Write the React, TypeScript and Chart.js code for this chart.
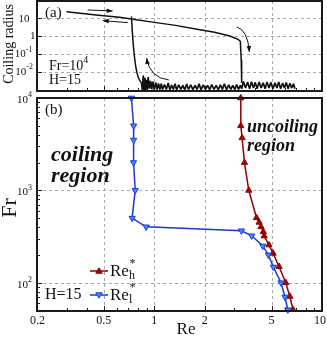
import React, { useEffect, useRef } from 'react';
import { Chart, registerables } from 'chart.js';

Chart.register(...registerables);

const W = 327;
const H = 340;
const FONT = '"Liberation Serif", "DejaVu Serif", serif';

// ---------- Panel (a): coiling radius vs Re (Fr = 10^4, H = 15)
const branchRe = [0.3, 0.45, 0.62, 0.73, 1.0, 1.34, 1.8, 2.29, 2.82, 3.16, 3.26, 3.3, 3.32];
const branchRadius = [23.6, 15.4, 11.3, 9.2, 5.9, 4.0, 2.45, 1.64, 1.02, 0.66, 0.5, 0.045, 0.0023];
const jumpRe = [0.731, 0.733, 0.741, 0.755, 0.776, 0.8, 0.84];
const jumpRadius = [12.8, 9.0, 1.44, 0.166, 0.0192, 0.0053, 0.0022];
const noiseRe = [
  0.84, 0.85, 0.86, 0.87, 0.88, 0.89, 0.9, 0.91, 0.92, 0.935, 0.95, 0.965, 0.98, 1.0, 1.02, 1.04,
  1.06, 1.08, 1.1, 1.12, 1.15, 1.18, 1.21, 1.24, 1.27, 1.3, 1.33, 1.36, 1.4, 1.44, 1.48, 1.52,
  1.56, 1.6, 1.65, 1.7, 1.75, 1.8, 1.85, 1.9, 1.96, 2.02, 2.08, 2.14, 2.2, 2.27, 2.34, 2.41,
  2.48, 2.55, 2.62, 2.7, 2.78, 2.86, 2.94, 3.02, 3.1, 3.18, 3.26, 3.32, 3.4, 3.5, 3.6, 3.7,
  3.8, 3.9, 4.0, 4.1, 4.22, 4.34, 4.46, 4.58, 4.7, 4.83, 4.96, 5.1, 5.24, 5.38, 5.52, 5.67,
  5.82, 5.97, 6.12, 6.28, 6.44, 6.6, 6.76, 6.9,
];
const noiseRadius = [
  0.0022, 0.0009, 0.006, 0.001, 0.0045, 0.00095, 0.0035, 0.001, 0.005, 0.0011, 0.003, 0.001, 0.0028, 0.00095, 0.0025, 0.001,
  0.0022, 0.001, 0.0021, 0.00098, 0.0019, 0.001, 0.0023, 0.00095, 0.0018, 0.001, 0.0021, 0.00097, 0.0018, 0.001, 0.0017, 0.00095,
  0.002, 0.001, 0.0018, 0.00098, 0.0017, 0.001, 0.0021, 0.00095, 0.0018, 0.001, 0.0017, 0.00098, 0.0019, 0.001, 0.0017, 0.00096,
  0.0018, 0.001, 0.0021, 0.00097, 0.0018, 0.001, 0.0017, 0.00098, 0.0019, 0.001, 0.0017, 0.0011, 0.0028, 0.0012, 0.0026, 0.0011,
  0.0027, 0.0012, 0.0025, 0.0011, 0.0026, 0.0012, 0.0024, 0.0011, 0.0026, 0.0012, 0.0025, 0.0011, 0.0024, 0.0012, 0.0026, 0.0011,
  0.0023, 0.0012, 0.0025, 0.0011, 0.0022, 0.0012, 0.0021, 0.0011,
];
// annotation arrows in data coordinates [Re, radius]
const arrowForward = [[0.401, 29.4], [0.565, 25.8]];
const arrowBackward = [[0.695, 5.7], [0.493, 7.4]];
const arrowDropCurve = [[3.1, 3.26], [3.61, 2.21], [3.69, 0.128]]; // start, control, end
const arrowRiseCurve = [[1.22, 0.00344], [0.94, 0.00445], [0.9, 0.059]];

// ---------- Panel (b): critical Re vs Fr
const reHighRe = [3.28, 3.28, 3.34, 3.45, 3.66, 4.07, 4.22, 4.33, 4.47, 4.52, 4.83, 5.11, 5.55, 6.08, 6.43, 6.72];
const reHighFr = [10000, 5000, 3700, 2000, 1000, 505, 450, 403, 356, 320, 256, 208, 149, 100, 71, 51];
const reLowRe = [0.731, 0.754, 0.754, 0.752, 0.77, 0.738, 0.895, 3.31, 3.81, 4.44, 4.79, 5.13, 5.7, 6.02, 6.25];
const reLowFr = [10000, 5000, 3500, 2000, 1000, 500, 403, 365, 322, 250, 200, 148, 100, 70, 51];

// ---------- axes
const xTickValues = [0.2, 0.5, 1, 2, 5, 10];
const xTickLabels = ['0.2', '0.5', '1', '2', '5', '10'];
const xGridValues = [0.5, 1, 2, 5];
const xMinorValues = [0.3, 0.4, 0.6, 0.7, 0.8, 0.9, 3, 4, 6, 7, 8, 9];
const aTickValues = [10, 1, 0.1, 0.01];
const aTickBases = ['10', '1', '10', '10'];
const aTickExps = ['', '', '-1', '-2'];
const bTickValues = [10000, 1000, 100];
const bTickBases = ['10', '10', '10'];
const bTickExps = ['4', '3', '2'];
const bMinorValues = [60, 70, 80, 90, 200, 300, 400, 500, 600, 700, 800, 900, 2000, 3000, 4000, 5000, 6000, 7000, 8000, 9000];

const RED = '#8b0000';
const RED_FILL = '#a80000';
const BLUE = '#1f36d6';
const BLUE_FILL = '#3f8ff5';

const pts = (xs: number[], ys: number[]) => xs.map((x, i) => ({ x, y: ys[i] }));

function font(size: number, style = '') {
  return `${style} ${size}px ${FONT}`.trim();
}

function drawPower(ctx: CanvasRenderingContext2D, base: string, exp: string, right: number, cy: number, size: number) {
  const es = Math.round(size * 0.75);
  ctx.font = font(es);
  const ew = exp ? ctx.measureText(exp).width : 0;
  ctx.font = font(size);
  const bw = ctx.measureText(base).width;
  ctx.textBaseline = 'middle';
  ctx.textAlign = 'left';
  ctx.fillStyle = '#111';
  ctx.fillText(base, right - ew - bw, cy);
  if (exp) {
    ctx.font = font(es);
    ctx.fillText(exp, right - ew, cy - size * 0.45);
  }
}

function drawFrame(ctx: CanvasRenderingContext2D, a: any) {
  ctx.save();
  ctx.strokeStyle = '#1a1a1a';
  ctx.lineWidth = 2;
  ctx.setLineDash([]);
  ctx.strokeRect(a.left, a.top, a.right - a.left, a.bottom - a.top);
  ctx.restore();
}

function drawGrid(ctx: CanvasRenderingContext2D, a: any, x: any, y: any, yVals: number[]) {
  ctx.save();
  ctx.strokeStyle = '#a8a8a8';
  ctx.lineWidth = 1;
  ctx.setLineDash([3, 3]);
  ctx.beginPath();
  for (const v of xGridValues) {
    const px = Math.round(x.getPixelForValue(v)) + 0.5;
    ctx.moveTo(px, a.top);
    ctx.lineTo(px, a.bottom);
  }
  for (const v of yVals) {
    const py = Math.round(y.getPixelForValue(v)) + 0.5;
    ctx.moveTo(a.left, py);
    ctx.lineTo(a.right, py);
  }
  ctx.stroke();
  ctx.restore();
}

function drawXTicks(ctx: CanvasRenderingContext2D, a: any, x: any) {
  ctx.save();
  ctx.strokeStyle = '#1a1a1a';
  ctx.lineWidth = 1;
  ctx.beginPath();
  for (const v of xTickValues) {
    const px = Math.round(x.getPixelForValue(v)) + 0.5;
    ctx.moveTo(px, a.bottom);
    ctx.lineTo(px, a.bottom - 5);
  }
  for (const v of xMinorValues) {
    const px = Math.round(x.getPixelForValue(v)) + 0.5;
    ctx.moveTo(px, a.bottom);
    ctx.lineTo(px, a.bottom - 3);
  }
  ctx.stroke();
  ctx.restore();
}

function drawArrowHead(ctx: CanvasRenderingContext2D, tx: number, ty: number, ang: number) {
  const len = 6;
  const half = 2.3;
  ctx.beginPath();
  ctx.moveTo(tx, ty);
  ctx.lineTo(tx - len * Math.cos(ang) + half * Math.sin(ang), ty - len * Math.sin(ang) - half * Math.cos(ang));
  ctx.lineTo(tx - len * Math.cos(ang) - half * Math.sin(ang), ty - len * Math.sin(ang) + half * Math.cos(ang));
  ctx.closePath();
  ctx.fill();
}

const panelAPlugin = {
  id: 'panelA',
  beforeDatasetsDraw(chart: any) {
    const { ctx, chartArea: a, scales } = chart;
    drawGrid(ctx, a, scales.x, scales.y, aTickValues);
  },
  afterDatasetsDraw(chart: any) {
    const { ctx, chartArea: a, scales } = chart;
    const x = scales.x;
    const y = scales.y;
    const P = (p: number[]) => [x.getPixelForValue(p[0]), y.getPixelForValue(p[1])];
    ctx.save();
    // arrows
    ctx.strokeStyle = '#111';
    ctx.fillStyle = '#111';
    ctx.lineWidth = 1;
    for (const arr of [arrowForward, arrowBackward]) {
      const [x0, y0] = P(arr[0]);
      const [x1, y1] = P(arr[1]);
      ctx.beginPath();
      ctx.moveTo(x0, y0);
      ctx.lineTo(x1, y1);
      ctx.stroke();
      drawArrowHead(ctx, x1, y1, Math.atan2(y1 - y0, x1 - x0));
    }
    for (const arr of [arrowDropCurve, arrowRiseCurve]) {
      const [x0, y0] = P(arr[0]);
      const [cx, cy] = P(arr[1]);
      const [x1, y1] = P(arr[2]);
      ctx.beginPath();
      ctx.moveTo(x0, y0);
      ctx.quadraticCurveTo(cx, cy, x1, y1);
      ctx.stroke();
      drawArrowHead(ctx, x1, y1, Math.atan2(y1 - cy, x1 - cx));
    }
    drawFrame(ctx, a);
    drawXTicks(ctx, a, x);
    // left ticks
    ctx.strokeStyle = '#1a1a1a';
    ctx.lineWidth = 1;
    ctx.beginPath();
    for (const v of aTickValues) {
      const py = Math.round(y.getPixelForValue(v)) + 0.5;
      ctx.moveTo(a.left, py);
      ctx.lineTo(a.left + 5, py);
    }
    ctx.stroke();
    // tick labels
    const rights = [29.5, 35.5, 32.5, 33];
    aTickValues.forEach((v, i) => {
      drawPower(ctx, aTickBases[i], aTickExps[i], rights[i], y.getPixelForValue(v) + 0.5, 11);
    });
    // axis title
    ctx.save();
    ctx.translate(9, 44);
    ctx.rotate(-Math.PI / 2);
    ctx.font = font(14);
    ctx.fillStyle = '#111';
    ctx.textAlign = 'center';
    ctx.textBaseline = 'middle';
    ctx.fillText('Coiling radius', 0, 0);
    ctx.restore();
    // texts
    ctx.fillStyle = '#111';
    ctx.textAlign = 'left';
    ctx.textBaseline = 'middle';
    ctx.font = font(15);
    ctx.fillText('(a)', 45, 13.5);
    ctx.font = font(14);
    ctx.fillText('Fr=10', 49, 66);
    const fw = ctx.measureText('Fr=10').width;
    ctx.font = font(10);
    ctx.fillText('4', 49 + fw, 60);
    ctx.font = font(14);
    ctx.fillText('H=15', 49, 80.5);
    ctx.restore();
  },
};

const panelBPlugin = {
  id: 'panelB',
  beforeDatasetsDraw(chart: any) {
    const { ctx, chartArea: a, scales } = chart;
    drawGrid(ctx, a, scales.x, scales.y, [1000, 100]);
  },
  afterDatasetsDraw(chart: any) {
    const { ctx, chartArea: a, scales } = chart;
    const x = scales.x;
    const y = scales.y;
    ctx.save();
    drawFrame(ctx, a);
    drawXTicks(ctx, a, x);
    ctx.strokeStyle = '#1a1a1a';
    ctx.lineWidth = 1;
    ctx.beginPath();
    for (const v of bTickValues) {
      const py = Math.round(y.getPixelForValue(v)) + 0.5;
      ctx.moveTo(a.left, py);
      ctx.lineTo(a.left + 5, py);
    }
    for (const v of bMinorValues) {
      const py = Math.round(y.getPixelForValue(v)) + 0.5;
      ctx.moveTo(a.left, py);
      ctx.lineTo(a.left + 3, py);
    }
    ctx.stroke();
    bTickValues.forEach((v, i) => {
      drawPower(ctx, bTickBases[i], bTickExps[i], 32, y.getPixelForValue(v) + 2, 11);
    });
    // x tick labels
    ctx.fillStyle = '#111';
    ctx.font = font(12);
    ctx.textAlign = 'center';
    ctx.textBaseline = 'middle';
    xTickValues.forEach((v, i) => {
      let px = x.getPixelForValue(v);
      if (i === 0) px += 0.5;
      if (i === xTickValues.length - 1) px -= 2;
      ctx.fillText(xTickLabels[i], px, 321);
    });
    // axis titles
    ctx.font = font(17);
    ctx.fillText('Re', 186, 330);
    ctx.save();
    ctx.translate(10, 208);
    ctx.rotate(-Math.PI / 2);
    ctx.font = font(22);
    ctx.textAlign = 'center';
    ctx.fillText('Fr', 0, 0);
    ctx.restore();
    // panel label and region labels
    ctx.textAlign = 'left';
    ctx.font = font(15);
    ctx.fillText('(b)', 45, 110);
    ctx.font = font(22, 'italic bold');
    ctx.fillText('coiling', 51, 155);
    ctx.fillText('region', 51, 176);
    ctx.font = font(18, 'italic bold');
    ctx.fillText('uncoiling', 247, 127);
    ctx.fillText('region', 247, 146);
    // legend
    ctx.font = font(16);
    ctx.fillText('H=15', 45, 295);
    const entries = [
      { cy: 271, col: RED, fill: RED_FILL, down: false, sub: 'h' },
      { cy: 295, col: BLUE, fill: BLUE_FILL, down: true, sub: 'l' },
    ];
    for (const e of entries) {
      ctx.strokeStyle = e.col;
      ctx.lineWidth = 1.5;
      ctx.beginPath();
      ctx.moveTo(90, e.cy);
      ctx.lineTo(108, e.cy);
      ctx.stroke();
      const cx = 99;
      const r = 3.2;
      ctx.beginPath();
      if (!e.down) {
        ctx.moveTo(cx, e.cy - r);
        ctx.lineTo(cx + r, e.cy + r * 0.7);
        ctx.lineTo(cx - r, e.cy + r * 0.7);
      } else {
        ctx.moveTo(cx, e.cy + r);
        ctx.lineTo(cx + r, e.cy - r * 0.7);
        ctx.lineTo(cx - r, e.cy - r * 0.7);
      }
      ctx.closePath();
      ctx.fillStyle = e.fill;
      ctx.fill();
      ctx.lineWidth = 1;
      ctx.stroke();
      ctx.fillStyle = '#111';
      ctx.font = font(17);
      ctx.textBaseline = 'middle';
      ctx.fillText('Re', 110, e.cy + 1);
      const rw = ctx.measureText('Re').width;
      ctx.font = font(12);
      ctx.fillText(e.sub, 110 + rw, e.cy + 5);
      ctx.fillText('*', 110 + rw + 0.5, e.cy - 7);
    }
    ctx.restore();
  },
};

export default function App() {
  const refA = useRef<HTMLCanvasElement>(null);
  const refB = useRef<HTMLCanvasElement>(null);

  useEffect(() => {
    const chartA = new Chart(refA.current as HTMLCanvasElement, {
      type: 'line',
      data: {
        datasets: [
          {
            data: pts(branchRe, branchRadius),
            borderColor: '#111',
            borderWidth: 1.5,
            pointRadius: 0,
            tension: 0,
          },
          {
            data: pts(jumpRe, jumpRadius),
            borderColor: '#111',
            borderWidth: 1.5,
            pointRadius: 0,
            cubicInterpolationMode: 'monotone',
          },
          {
            data: pts(noiseRe, noiseRadius),
            borderColor: '#111',
            borderWidth: 1.7,
            pointRadius: 0,
            tension: 0,
            borderJoinStyle: 'bevel',
          },
        ],
      },
      options: {
        responsive: false,
        animation: false,
        events: [],
        layout: { padding: { left: 37, right: 5, top: 1, bottom: H - 91 } },
        plugins: { legend: { display: false }, tooltip: { enabled: false } },
        scales: {
          x: { type: 'logarithmic', min: 0.2, max: 10, display: false },
          y: { type: 'logarithmic', min: 0.00082, max: 93.7, display: false },
        },
      },
      plugins: [panelAPlugin],
    } as any);

    const chartB = new Chart(refB.current as HTMLCanvasElement, {
      type: 'line',
      data: {
        datasets: [
          {
            data: pts(reLowRe, reLowFr),
            borderColor: BLUE,
            borderWidth: 1.5,
            pointStyle: 'triangle',
            pointRotation: 180,
            pointRadius: 3.6,
            pointBackgroundColor: BLUE_FILL,
            pointBorderColor: BLUE,
            pointBorderWidth: 1,
            tension: 0,
            clip: 6,
          },
          {
            data: pts(reHighRe, reHighFr),
            borderColor: RED,
            borderWidth: 1.5,
            pointStyle: 'triangle',
            pointRadius: 3.6,
            pointBackgroundColor: RED_FILL,
            pointBorderColor: RED,
            pointBorderWidth: 1,
            tension: 0,
            clip: 6,
          },
        ],
      },
      options: {
        responsive: false,
        animation: false,
        events: [],
        layout: { padding: { left: 37, right: 5, top: 98, bottom: H - 311 } },
        plugins: { legend: { display: false }, tooltip: { enabled: false } },
        scales: {
          x: { type: 'logarithmic', min: 0.2, max: 10, display: false },
          y: { type: 'logarithmic', min: 49.4, max: 10000, display: false },
        },
      },
      plugins: [panelBPlugin],
    } as any);

    return () => {
      chartA.destroy();
      chartB.destroy();
    };
  }, []);

  return (
    <div style={{ position: 'absolute', left: 0, top: 0, width: W, height: H, background: '#fff' }}>
      <canvas ref={refA} width={W} height={H} style={{ position: 'absolute', left: 0, top: 0 }} />
      <canvas ref={refB} width={W} height={H} style={{ position: 'absolute', left: 0, top: 0 }} />
    </div>
  );
}
